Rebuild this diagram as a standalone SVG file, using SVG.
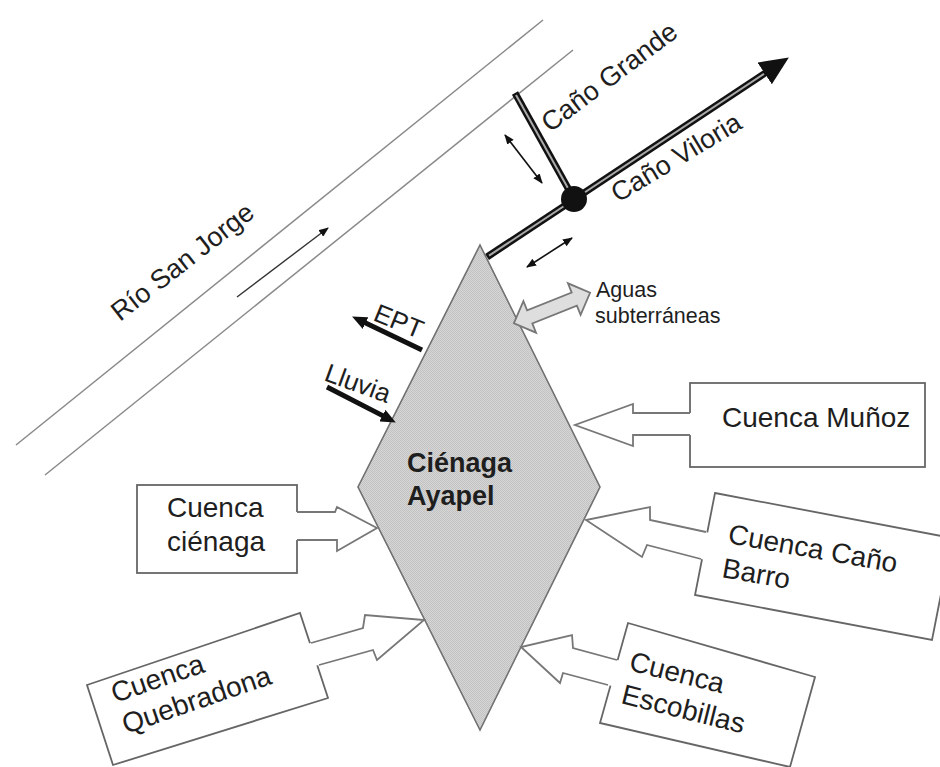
<svg xmlns="http://www.w3.org/2000/svg" width="940" height="767" viewBox="0 0 940 767">
<style>
text{font-family:"Liberation Sans",Arial,sans-serif;fill:#1e1e1e}
.lbl{font-size:28px}
.rv{font-size:27px}
.big{font-size:27px;font-weight:bold}
.sub{font-size:21.5px}
.box{fill:#fff;stroke:#666;stroke-width:1.8}
.inflow{fill:#fff;stroke:#777;stroke-width:1.8;stroke-linejoin:miter}
.inFill{fill:#fff;stroke:none}
.inLine{fill:none;stroke:#777;stroke-width:1.8;stroke-linejoin:miter}
.river{stroke:#8a8a8a;stroke-width:1.5;fill:none}
.thin{stroke:#111;stroke-width:1.6;fill:none}
.thick{stroke:#111;stroke-width:5;fill:none}
.canoOut{stroke:#111;stroke-width:7;fill:none}
.canoIn{stroke:#aaa;stroke-width:2;fill:none}
</style>
<defs>
<pattern id="chk" width="2" height="2" patternUnits="userSpaceOnUse">
<rect width="2" height="2" fill="#d6d6d6"/>
<rect width="1" height="1" fill="#c2c2c2"/>
<rect x="1" y="1" width="1" height="1" fill="#c2c2c2"/>
</pattern>
<marker id="sm" markerUnits="userSpaceOnUse" markerWidth="10" markerHeight="8" viewBox="0 0 10 8" refX="9" refY="4" orient="auto-start-reverse">
<path d="M0,0 L10,4 L0,8 z" fill="#111"/>
</marker>
<marker id="md" markerUnits="userSpaceOnUse" markerWidth="15" markerHeight="13" viewBox="0 0 15 13" refX="4" refY="6.5" orient="auto">
<path d="M0,0 L15,6.5 L0,13 z" fill="#111"/>
</marker>
<marker id="lg" markerUnits="userSpaceOnUse" markerWidth="29" markerHeight="26" viewBox="0 0 29 26" refX="4" refY="13" orient="auto">
<path d="M0,0 L29,13 L0,26 z" fill="#111"/>
</marker>
</defs>

<g id="rio-san-jorge">
<line class="river" x1="16" y1="445" x2="543" y2="20"/>
<line class="river" x1="45" y1="475" x2="573" y2="50"/>
<line class="thin" x1="237" y1="297" x2="328" y2="228" style="stroke:#333;stroke-width:1.4" marker-end="url(#sm)"/>
<text class="rv" transform="translate(120,322) rotate(-38)">Río San Jorge</text>
</g>

<g id="cano-viloria">
<line class="canoOut" x1="487" y1="257" x2="768" y2="71.2" marker-end="url(#lg)"/>
<line class="canoIn" x1="489" y1="255.7" x2="764" y2="73.8"/>
<text class="rv" transform="translate(618,203) rotate(-31)">Caño Viloria</text>
</g>

<g id="cano-grande">
<line class="canoOut" x1="515" y1="93" x2="574" y2="199"/>
<line class="canoIn" x1="516" y1="95" x2="574" y2="199"/>
<text class="rv" transform="translate(550,133) rotate(-37)">Caño Grande</text>
</g>

<g id="junction">
<circle cx="574" cy="199" r="13" fill="#111"/>
</g>

<g id="cienaga-ayapel">
<polygon points="480,245 600,487 480,730 358,487" fill="url(#chk)" stroke="#707070" stroke-width="1.6"/>
<text class="big" x="407" y="472">Ciénaga</text>
<text class="big" x="407" y="505">Ayapel</text>
</g>

<g id="aguas-subterraneas">
<polygon class="inflow" style="fill:#dedede" transform="translate(552,308) rotate(-21.8)" points="-41,0 -24,-17 -24,-7 24,-7 24,-17 41,0 24,17 24,7 -24,7 -24,17"/>
<text class="sub" x="596" y="297">Aguas</text>
<text class="sub" x="595" y="323">subterráneas</text>
</g>

<g id="ept">
<text transform="translate(372,320) rotate(22)" style="font-size:26px">EPT</text>
</g>

<g id="lluvia">
<text transform="translate(323,380) rotate(20)" style="font-size:26px">Lluvia</text>
</g>

<g id="cuenca-munoz">
<rect class="box" x="690" y="383" width="235" height="84"/>
<text class="lbl" x="722" y="427">Cuenca Muñoz</text>
</g>

<g id="cuenca-cano-barro">
<polygon class="box" points="715,493 952,538 932,640 695,595"/>
<text class="lbl" transform="translate(727,543) rotate(10)">Cuenca Caño</text>
<text class="lbl" transform="translate(721,577) rotate(10)">Barro</text>
</g>

<g id="cuenca-escobillas">
<polygon class="box" points="628,623 815,677 790,767 600,723"/>
<text class="lbl" transform="translate(628,670) rotate(14)">Cuenca</text>
<text class="lbl" transform="translate(620,703) rotate(14)">Escobillas</text>
</g>

<g id="cuenca-cienaga">
<rect class="box" x="137" y="485" width="160" height="88"/>
<text class="lbl" x="167" y="517">Cuenca</text>
<text class="lbl" x="167" y="551">ciénaga</text>
</g>

<g id="cuenca-quebradona">
<polygon class="box" points="87,685 300,613 328,698 113,765"/>
<text class="lbl" transform="translate(115,703) rotate(-19)">Cuenca</text>
<text class="lbl" transform="translate(126,734) rotate(-19)">Quebradona</text>
</g>

<g id="connectors">
<line class="thick" x1="422" y1="350" x2="362" y2="321.3" marker-end="url(#md)"/>
<line class="thick" x1="327" y1="387" x2="386" y2="417.4" marker-end="url(#md)"/>
<line class="thin" x1="505" y1="135" x2="542" y2="183" marker-start="url(#sm)" marker-end="url(#sm)"/>
<line class="thin" x1="527" y1="267" x2="572" y2="238" marker-start="url(#sm)" marker-end="url(#sm)"/>
<g id="flow-munoz">
<polygon class="inFill" points="694,413 633,413 633,404 575,425 633,446 633,435 694,435"/>
<polyline class="inLine" points="690,413 633,413 633,404 575,425 633,446 633,435 690,435"/>
</g>
<g id="flow-cano-barro">
<polygon class="inFill" points="710,533 650,520 650,507 586,520 642,557 647,545 705,560"/>
<polyline class="inLine" points="706,532 650,520 650,507 586,520 642,557 647,545 701,559"/>
</g>
<g id="flow-escobillas">
<polygon class="inFill" points="621,661 573,648 572,635 521,647 560,683 563,673 612,686"/>
<polyline class="inLine" points="617,660 573,648 572,635 521,647 560,683 563,673 608,685"/>
</g>
<g id="flow-cienaga">
<polygon class="inFill" points="293,512 335,512 337,507 377,528 337,551 337,540 293,540"/>
<polyline class="inLine" points="297,512 335,512 337,507 377,528 337,551 337,540 297,540"/>
</g>
<g id="flow-quebradona">
<polygon class="inFill" points="307,644 363,628 365,615 424,620 377,660 373,650 315,666"/>
<polyline class="inLine" points="311,643 363,628 365,615 424,620 377,660 373,650 319,665"/>
</g>
</g>
</svg>
